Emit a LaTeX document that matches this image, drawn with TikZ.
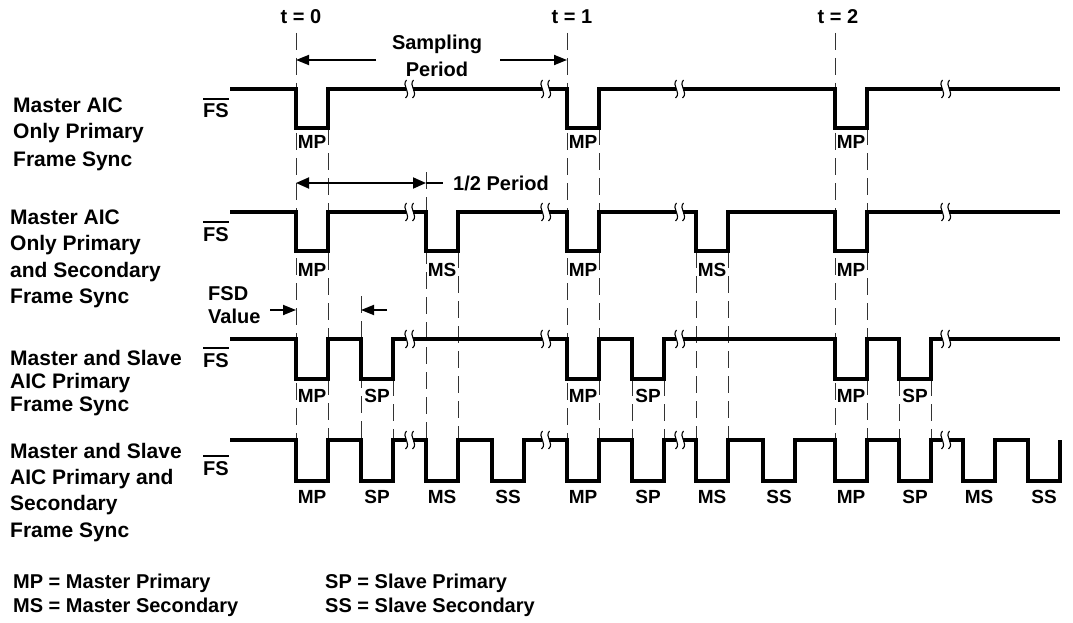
\documentclass[tikz,border=0pt]{standalone}
\usepackage{fontspec}
\setmainfont{Liberation Sans}
\usetikzlibrary{arrows.meta}
\begin{document}
\begin{tikzpicture}[x=1pt,y=-1pt,
  wave/.style={line width=3.3pt,line join=miter},
  guide/.style={line width=1pt,black!80,dash pattern=on 17pt off 8pt},
  lab/.style={font=\fontsize{21}{26}\selectfont\bfseries,anchor=base west,inner sep=0},
  txt/.style={font=\fontsize{20}{24}\selectfont\bfseries,inner sep=0},
  tlab/.style={font=\fontsize{20}{24}\selectfont\bfseries,anchor=base,inner sep=0},
  plab/.style={font=\fontsize{19}{22}\selectfont\bfseries,anchor=base,inner sep=0},
  fsl/.style={font=\fontsize{20}{24}\selectfont\bfseries,anchor=base west,inner sep=0},
  ovl/.style={line width=2.2pt},
  arr/.style={line width=1.8pt,-{Triangle[length=13pt,width=10pt]}},
  dim/.style={line width=1.8pt,{Triangle[length=13pt,width=11pt]}-{Triangle[length=13pt,width=11pt]}}
]
\useasboundingbox[fill=white] (0,0) rectangle (1073,623);

% ---------- guide lines ----------
\foreach \gx/\gt in {296/33,567/33,835/33,328/128,599/128,867/128,426/172,458/251,696/251,728/251,361/296,393/379,632/379,664/379,899/379,931/379}{
  \draw[guide] (\gx,\gt) -- (\gx,440);
}

% ---------- waveforms ----------
% row 1
\draw[wave] (230,89) -- (296,89) -- (296,128) -- (328,128) -- (328,89)
  -- (567,89) -- (567,128) -- (599,128) -- (599,89)
  -- (835,89) -- (835,128) -- (867,128) -- (867,89) -- (1060,89);
% row 2
\draw[wave] (230,212) -- (296,212) -- (296,251) -- (328,251) -- (328,212)
  -- (426,212) -- (426,251) -- (458,251) -- (458,212)
  -- (567,212) -- (567,251) -- (599,251) -- (599,212)
  -- (696,212) -- (696,251) -- (728,251) -- (728,212)
  -- (835,212) -- (835,251) -- (867,251) -- (867,212) -- (1060,212);
% row 3
\draw[wave] (230,339) -- (296,339) -- (296,379) -- (328,379) -- (328,339)
  -- (361,339) -- (361,379) -- (393,379) -- (393,339)
  -- (567,339) -- (567,379) -- (599,379) -- (599,339)
  -- (632,339) -- (632,379) -- (664,379) -- (664,339)
  -- (835,339) -- (835,379) -- (867,379) -- (867,339)
  -- (899,339) -- (899,379) -- (931,379) -- (931,339) -- (1060,339);
% row 4
\draw[wave] (230,440) -- (296,440) -- (296,481) -- (328,481) -- (328,440)
  -- (361,440) -- (361,481) -- (393,481) -- (393,440)
  -- (426,440) -- (426,481) -- (458,481) -- (458,440)
  -- (492,440) -- (492,481) -- (524,481) -- (524,440)
  -- (567,440) -- (567,481) -- (599,481) -- (599,440)
  -- (632,440) -- (632,481) -- (664,481) -- (664,440)
  -- (696,440) -- (696,481) -- (728,481) -- (728,440)
  -- (763,440) -- (763,481) -- (795,481) -- (795,440)
  -- (835,440) -- (835,481) -- (867,481) -- (867,440)
  -- (899,440) -- (899,481) -- (931,481) -- (931,440)
  -- (963,440) -- (963,481) -- (995,481) -- (995,440)
  -- (1028,440) -- (1028,481) -- (1060,481) -- (1060,440);

% ---------- break marks ----------
\foreach \by in {89,212,339,440}{
  \foreach \bx in {409,545,679,945}{
    \fill[white] (\bx-3.5,\by-2.5) rectangle (\bx+3.5,\by+2.5);
    \draw[line width=1.1pt] (\bx-2.5,\by-9) .. controls (\bx-8,\by-3) and (\bx+3,\by+3) .. (\bx-3.5,\by+9);
    \draw[line width=1.1pt] (\bx+4.5,\by-9) .. controls (\bx-1,\by-3) and (\bx+10,\by+3) .. (\bx+3.5,\by+9);
  }
}

% ---------- row labels ----------
\node[lab] (r1a) at (13,113) {Master AIC};
\node[lab] (r1b) at (13,139) {Only Primary};
\node[lab] (r1c) at (13,166) {Frame Sync};
\node[lab] (r2a) at (10,224) {Master AIC};
\node[lab] (r2b) at (10,250) {Only Primary};
\node[lab] (r2c) at (10,277) {and Secondary};
\node[lab] (r2d) at (10,303) {Frame Sync};
\node[lab] (r3a) at (10,365) {Master and Slave};
\node[lab] (r3b) at (10,388) {AIC Primary};
\node[lab] (r3c) at (10,411) {Frame Sync};
\node[lab] (r4a) at (10,458) {Master and Slave};
\node[lab] (r4b) at (10,484) {AIC Primary and};
\node[lab] (r4c) at (10,510) {Secondary};
\node[lab] (r4d) at (10,537) {Frame Sync};

% ---------- FS labels ----------
\node[fsl] (fs1) at (203,118) {FS};
\node[fsl] (fs2) at (203,241) {FS};
\node[fsl] (fs3) at (203,367) {FS};
\node[fsl] (fs4) at (203,475) {FS};
\foreach \f in {fs1,fs2,fs3,fs4}{
  \draw[ovl] ([yshift=5pt]\f.north west) -- ([yshift=5pt]\f.north east);
}

% ---------- time labels ----------
\node[tlab] (t0) at (301,24) {t = 0};
\node[tlab] (t1) at (572,24) {t = 1};
\node[tlab] (t2) at (838,24) {t = 2};

% ---------- sampling period ----------
\node[txt,anchor=base] (sp1) at (437,50) {Sampling};
\node[txt,anchor=base] (sp2) at (437,77) {Period};
\coordinate (sa) at (296,60);
\coordinate (sb) at (376,60);
\coordinate (sc) at (500,60);
\coordinate (sd) at (567,60);
\draw[arr] (sb) -- (sa);
\draw[arr] (sc) -- (sd);

% ---------- half period ----------
\coordinate (ha) at (296,183);
\coordinate (hb) at (426,183);
\coordinate (hc) at (443,183);
\draw[dim] (ha) -- (hb);
\draw[line width=1.8pt] (hb) -- (hc);
\node[txt,anchor=base west] (hp) at (453,190) {1/2 Period};

% ---------- FSD value ----------
\node[txt,anchor=base west] (fsd1) at (208,300) {FSD};
\node[txt,anchor=base west] (fsd2) at (208,323) {Value};
\coordinate (fa) at (270,310);
\coordinate (fb) at (296,310);
\coordinate (fc) at (387,310);
\coordinate (fd) at (361,310);
\draw[arr] (fa) -- (fb);
\draw[arr] (fc) -- (fd);

% ---------- pulse labels ----------
\foreach \px [count=\i] in {312,583,851}{
  \node[plab] (m1\i) at (\px,148) {MP};
  \node[plab] (m2\i) at (\px,276) {MP};
  \node[plab] (m3\i) at (\px,402) {MP};
  \node[plab] (m4\i) at (\px,503) {MP};
}
\node[plab] (s21) at (442,276) {MS};
\node[plab] (s22) at (712,276) {MS};
\foreach \px [count=\i] in {377,648,915}{
  \node[plab] (p3\i) at (\px,402) {SP};
  \node[plab] (p4\i) at (\px,503) {SP};
}
\foreach \px [count=\i] in {442,712,979}{
  \node[plab] (ms4\i) at (\px,503) {MS};
}
\foreach \px [count=\i] in {508,779,1044}{
  \node[plab] (ss4\i) at (\px,503) {SS};
}

% ---------- legend ----------
\node[txt,anchor=base west] (lg1) at (13,588) {MP = Master Primary};
\node[txt,anchor=base west] (lg2) at (13,612) {MS = Master Secondary};
\node[txt,anchor=base west] (lg3) at (325,588) {SP = Slave Primary};
\node[txt,anchor=base west] (lg4) at (325,612) {SS = Slave Secondary};
\end{tikzpicture}
\end{document}
